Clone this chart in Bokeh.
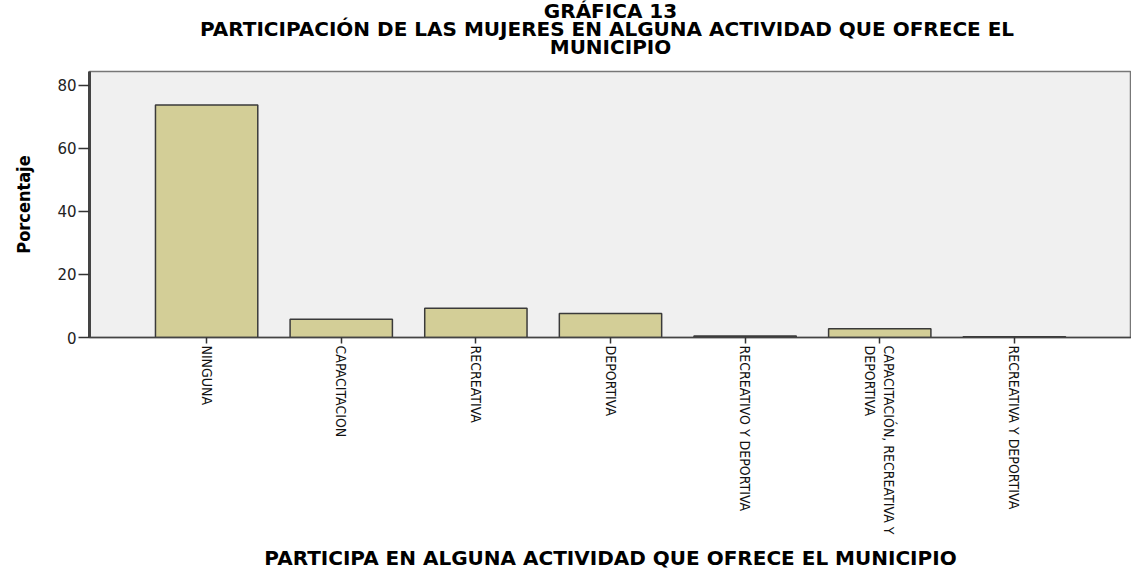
import math
from bokeh.plotting import figure
from bokeh.layouts import column
from bokeh.models import FactorRange, Range1d, FixedTicker, Label
from bokeh.embed import file_html
from bokeh.resources import INLINE

categorias = ["NINGUNA", "CAPACITACION", "RECREATIVA", "DEPORTIVA",
              "RECREATIVO Y DEPORTIVA", "CAPACITACIÓN, RECREATIVA Y\nDEPORTIVA",
              "RECREATIVA Y DEPORTIVA"]
porcentajes = [73.8, 5.8, 9.3, 7.6, 0.5, 2.8, 0.2]
y_ticks = [0, 20, 40, 60, 80]
titulo = ["GRÁFICA 13",
          "PARTICIPACIÓN DE LAS MUJERES  EN ALGUNA ACTIVIDAD QUE OFRECE EL",
          "MUNICIPIO"]
eje_x = "PARTICIPA EN ALGUNA ACTIVIDAD QUE OFRECE EL MUNICIPIO"
eje_y = "Porcentaje"

NARROW = "DejaVu Sans Condensed, Liberation Sans"
W = 1131
STRIP_H = 68

# --- title strip (centred on the whole chart width) ---
t = figure(width=W, height=STRIP_H, output_backend="svg", toolbar_location=None,
           x_axis_location=None, y_axis_location=None,
           min_border_left=0, min_border_right=0, min_border_top=0,
           min_border_bottom=0, x_range=Range1d(0, 1),
           y_range=Range1d(0, STRIP_H))
t.grid.visible = False
t.outline_line_color = None
t.background_fill_color = None
t.border_fill_color = None
baselines = [STRIP_H - 10, STRIP_H - 28, STRIP_H - 46]
for line, yb in zip(titulo, baselines):
    t.add_layout(Label(x=0.5, y=yb, text=line, text_align="center",
                       text_baseline="alphabetic", text_font="DejaVu Sans",
                       text_font_style="bold", text_font_size="20px",
                       text_color="black"))

# --- main chart ---
p = figure(width=W, height=505,
           x_range=FactorRange(factors=categorias, range_padding=0.37,
                               range_padding_units="absolute"),
           y_range=Range1d(0, 84.4),
           output_backend="svg", toolbar_location=None,
           min_border_left=89, min_border_right=0,
           min_border_top=3, min_border_bottom=231)

p.vbar(x=categorias, top=porcentajes, width=0.76,
       fill_color="#d3ce97", line_color="#3a3a3a", line_width=1.5)

p.background_fill_color = "#f0f0f0"
p.border_fill_color = "white"
p.outline_line_color = "#777777"
p.outline_line_width = 1.5
p.xgrid.visible = False
p.ygrid.visible = False

# y axis
ya = p.yaxis[0]
ya.ticker = FixedTicker(ticks=y_ticks)
ya.axis_line_color = "#444444"
ya.axis_line_width = 3
ya.major_tick_line_color = "#333333"
ya.major_tick_line_width = 1.5
ya.major_tick_out = 11
ya.major_tick_in = 0
ya.minor_tick_line_color = None
ya.major_label_text_font = "DejaVu Sans"
ya.major_label_text_font_size = "15px"
ya.major_label_text_color = "#222222"
ya.major_label_standoff = 2
ya.axis_label = eje_y
ya.axis_label_text_font = NARROW
ya.axis_label_text_font_style = "bold"
ya.axis_label_text_font_size = "18px"
ya.axis_label_text_color = "black"
ya.axis_label_standoff = 20

# x axis
xa = p.xaxis[0]
xa.axis_line_color = "#444444"
xa.axis_line_width = 1.5
xa.major_tick_line_color = "#333333"
xa.major_tick_line_width = 1.5
xa.major_tick_out = 6
xa.major_tick_in = 0
xa.minor_tick_line_color = None
xa.major_label_orientation = -math.pi / 2
xa.major_label_text_font = NARROW
xa.major_label_text_font_size = "14px"
xa.major_label_text_color = "#111111"
xa.major_label_standoff = 2
xa.axis_label = eje_x
xa.axis_label_text_font = "DejaVu Sans"
xa.axis_label_text_font_style = "bold"
xa.axis_label_text_font_size = "20px"
xa.axis_label_text_color = "black"
xa.axis_label_standoff = 9

layout = column(t, p, spacing=0)
open("out.html", "w").write(file_html(layout, INLINE))
